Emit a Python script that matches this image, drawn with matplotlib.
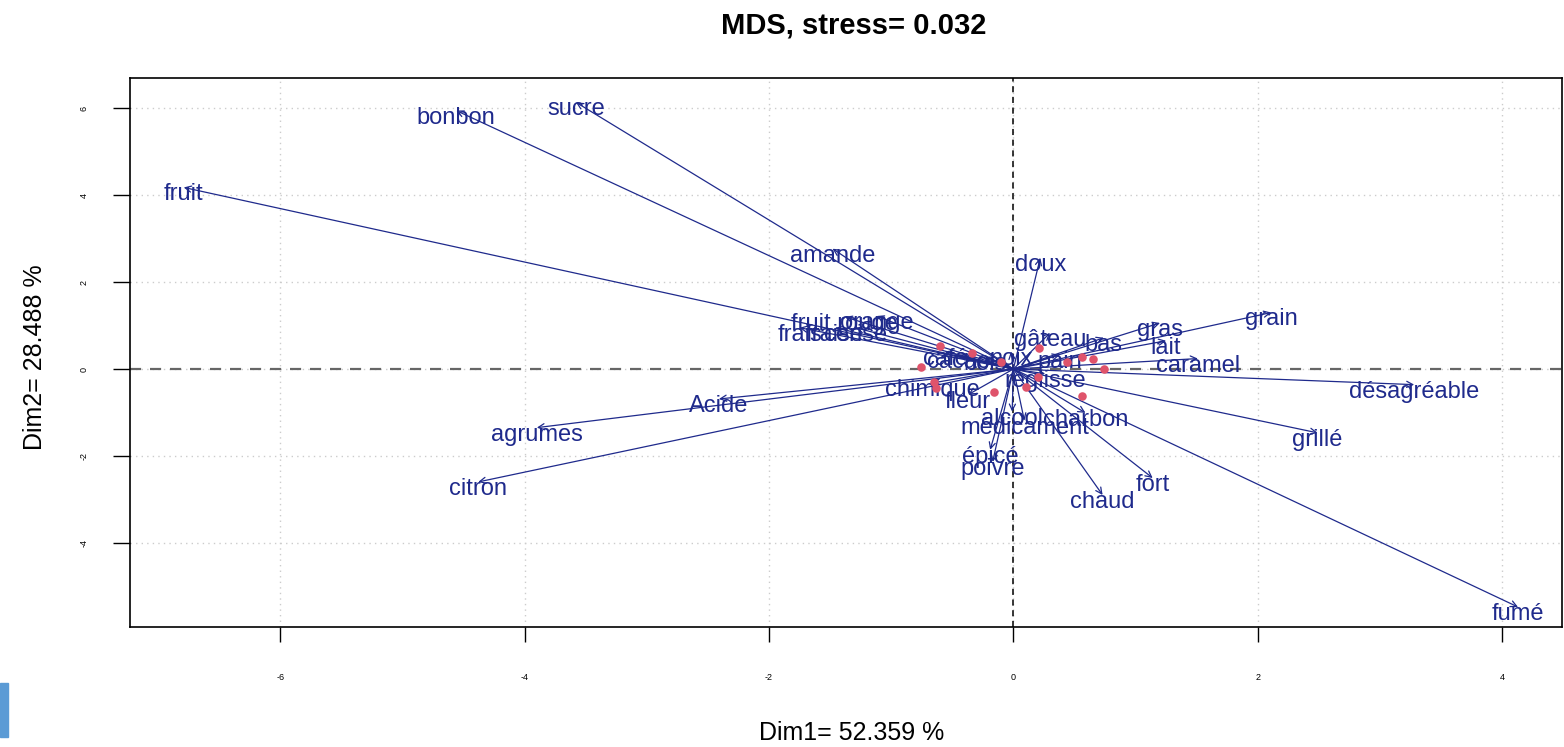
import matplotlib
matplotlib.use("Agg")
import matplotlib.pyplot as plt
from matplotlib.patches import Rectangle

plt.rcParams['font.family'] = ['Liberation Sans', 'DejaVu Sans']
plt.rcParams['axes.unicode_minus'] = False

# word coordinates on the two MDS dimensions
words = ["fruit", "bonbon", "sucre", "amande", "doux",
         "fruit rouge", "orange", "frais", "fraise", "cerise",
         "café", "cacao", "bois", "noix",
         "gâteau", "bas", "gras", "lait", "grain", "caramel", "pain", "réglisse",
         "désagréable", "grillé", "fort", "chaud", "fumé",
         "charbon", "alcool", "médicament", "épicé", "poivre",
         "fleur", "chimique", "Acide", "agrumes", "citron"]
dim1 = [-6.79, -4.56, -3.58, -1.48, 0.22,
        -1.38, -1.12, -1.75, -1.46, -1.29,
        -0.56, -0.45, -0.23, -0.02,
        0.30, 0.74, 1.20, 1.25, 2.11, 1.51, 0.38, 0.26,
        3.28, 2.49, 1.14, 0.73, 4.13,
        0.59, -0.01, 0.09, -0.19, -0.17,
        -0.37, -0.66, -2.41, -3.90, -4.38]
dim2 = [4.18, 5.95, 6.14, 2.77, 2.56,
        1.20, 1.22, 0.95, 0.95, 0.95,
        0.40, 0.32, 0.28, 0.40,
        0.83, 0.72, 1.06, 0.65, 1.30, 0.24, 0.33, -0.11,
        -0.36, -1.47, -2.51, -2.90, -5.48,
        -1.01, -0.98, -1.19, -1.86, -2.14,
        -0.59, -0.32, -0.69, -1.35, -2.60]

# red points
pt1 = [-0.60, -0.34, -0.10, -0.76, -0.65, -0.63, -0.16, 0.10, 0.20,
       0.21, 0.44, 0.56, 0.65, 0.74, 0.56]
pt2 = [0.53, 0.37, 0.16, 0.05, -0.30, -0.44, -0.53, -0.41, -0.18,
       0.48, 0.16, 0.28, 0.23, 0.00, -0.62]

blue = '#1f2a8c'

fig = plt.figure(figsize=(15.64, 7.47), dpi=100)
ax = fig.add_axes([130 / 1564, 120 / 747, 1432 / 1564, 549 / 747])

ax.set_xlim(-7.23, 4.49)
ax.set_ylim(-5.94, 6.70)

ax.set_xticks([-6, -4, -2, 0, 2, 4])
ax.set_yticks([-4, -2, 0, 2, 4, 6])
ax.grid(True, color='#cccccc', linestyle=(0, (1, 3)), linewidth=1)
ax.set_axisbelow(True)

ax.axhline(0, color='#666666', linestyle=(0, (5, 4)), linewidth=1.6, zorder=1)
ax.axvline(0, color='black', linestyle=(0, (4, 3)), linewidth=1.1, zorder=1)

for w, x, y in zip(words, dim1, dim2):
    ax.annotate('', xy=(x, y), xytext=(0, 0),
                arrowprops=dict(arrowstyle='->', color=blue, lw=0.9,
                                mutation_scale=11, shrinkA=0, shrinkB=0),
                zorder=2)
    ax.annotate(w, xy=(x, y), xytext=(0, -5), textcoords='offset points',
                ha='center', va='center', fontsize=17, color=blue, zorder=3)

ax.scatter(pt1, pt2, s=38, color='#DF536B', zorder=4, linewidths=0)

for s in ax.spines.values():
    s.set_linewidth(1.2)
ax.tick_params(axis='x', length=11, width=1, labelsize=6.5, pad=22)
ax.tick_params(axis='y', length=12, width=1, labelsize=6.5, pad=18, labelrotation=90)
for lab in ax.get_yticklabels():
    lab.set_va('center')

fig.text(854 / 1564, 1 - 25 / 747, 'MDS, stress= 0.032', ha='center', va='center',
         fontsize=21, fontweight='bold')
fig.text(852 / 1564, 1 - 733 / 747, 'Dim1= 52.359 %', ha='center', va='center',
         fontsize=18)
fig.text(35 / 1564, 1 - 357 / 747, 'Dim2= 28.488 %', ha='center', va='center',
         fontsize=18, rotation=90)

fig.patches.append(Rectangle((0, 10 / 747), 8 / 1564, 54 / 747, transform=fig.transFigure,
                             color='#5b9bd5', zorder=0))

fig.savefig('out.png', dpi=100)
